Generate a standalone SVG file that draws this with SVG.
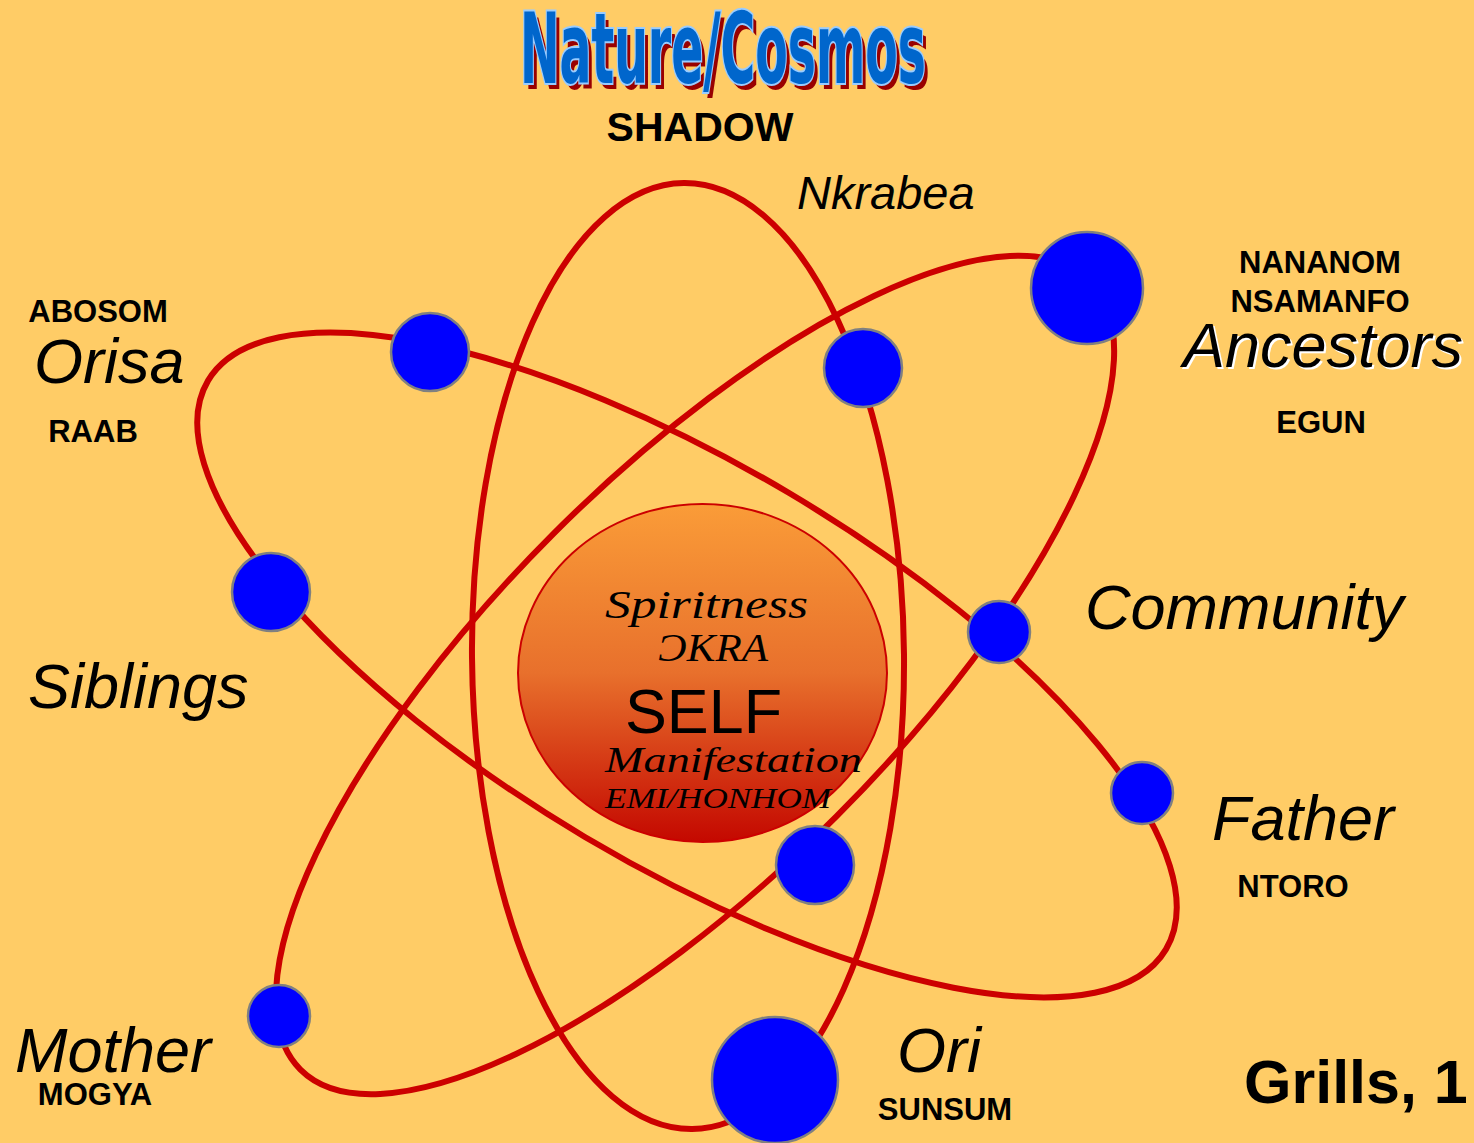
<svg xmlns="http://www.w3.org/2000/svg" width="1474" height="1143" viewBox="0 0 1474 1143">
<style>
.orbit{fill:none;stroke:#CC0000;stroke-width:6}
.node{fill:#0000FF;stroke:#808080;stroke-width:2.5}
.big{font-family:"Liberation Sans",Arial,sans-serif;font-style:italic;font-size:63px;fill:#000}
.lab{font-family:"Liberation Sans",Arial,sans-serif;font-weight:bold;font-size:31px;fill:#000;text-anchor:middle}
.script{font-family:"Liberation Serif","DejaVu Serif",serif;font-style:italic;fill:#000}
.title{font-family:"DejaVu Sans Condensed","Liberation Sans Narrow",sans-serif;font-weight:bold;font-size:98px}
</style>
<defs>
<linearGradient id="selfGrad" x1="0" y1="0" x2="0" y2="1">
<stop offset="0" stop-color="#FA9C38"/>
<stop offset="0.5" stop-color="#E8702C"/>
<stop offset="1" stop-color="#C40800"/>
</linearGradient>
</defs>
<rect x="0" y="0" width="1474" height="1143" fill="#FFCC66"/>
<g id="title">
<text class="title" x="524" y="89" fill="#990000" textLength="406" lengthAdjust="spacingAndGlyphs">Nature/Cosmos</text>
<text class="title" x="520" y="83" fill="#0066CC" stroke="#99CCFF" stroke-width="4" paint-order="stroke" textLength="406" lengthAdjust="spacingAndGlyphs">Nature/Cosmos</text>
</g>
<g id="connectors">
<ellipse class="orbit" cx="688" cy="656" rx="216" ry="473" transform="rotate(-0.5 688 656)"/>
<ellipse class="orbit" cx="695" cy="675" rx="558" ry="200" transform="rotate(-45 695 675)"/>
<ellipse class="orbit" cx="687" cy="665" rx="557" ry="200" transform="rotate(30.7 687 665)"/>
</g>
<g id="self">
<ellipse cx="702.5" cy="673" rx="184.5" ry="169" fill="url(#selfGrad)" stroke="#CC0000" stroke-width="2"/>
<text class="script" x="605" y="618" style="font-size:40px" textLength="203" lengthAdjust="spacingAndGlyphs">Spiritness</text>
<text class="script" x="658" y="661" style="font-size:40px" textLength="110" lengthAdjust="spacingAndGlyphs">ƆKRA</text>
<text x="625" y="733" style="font-family:'Liberation Sans',Arial,sans-serif;font-size:63px" fill="#000" textLength="157" lengthAdjust="spacingAndGlyphs">SELF</text>
<text class="script" x="605" y="772" style="font-size:36px" textLength="257" lengthAdjust="spacingAndGlyphs">Manifestation</text>
<text class="script" x="605" y="808" style="font-size:30px" textLength="226" lengthAdjust="spacingAndGlyphs">EMI/HONHOM</text>
</g>
<g id="node-orisa"><circle class="node" cx="430" cy="352" r="39"/></g>
<g id="node-nkrabea"><circle class="node" cx="863" cy="368" r="39"/></g>
<g id="node-ancestors"><circle class="node" cx="1087" cy="288" r="56"/></g>
<g id="node-siblings"><circle class="node" cx="271" cy="592" r="39"/></g>
<g id="node-community"><circle class="node" cx="999" cy="632" r="31"/></g>
<g id="node-father"><circle class="node" cx="1142" cy="793" r="31"/></g>
<g id="node-inner"><circle class="node" cx="815" cy="865" r="39"/></g>
<g id="node-mother"><circle class="node" cx="279" cy="1016" r="31"/></g>
<g id="node-ori"><circle class="node" cx="775" cy="1080" r="63"/></g>
<g id="labels">
<text class="lab" x="700" y="141" style="font-size:41px">SHADOW</text>
<text class="big" x="797" y="209" style="font-size:47px">Nkrabea</text>
<text class="lab" x="1320" y="273">NANANOM</text>
<text class="lab" x="1320" y="312">NSAMANFO</text>
<text class="big" x="1185" y="369" fill="#FFFFFF" style="fill:#FFFFFF" textLength="280" lengthAdjust="spacingAndGlyphs">Ancestors</text>
<text class="big" x="1183" y="367" textLength="280" lengthAdjust="spacingAndGlyphs">Ancestors</text>
<text class="lab" x="1321" y="433">EGUN</text>
<text class="lab" x="98" y="322">ABOSOM</text>
<text class="big" x="34" y="383">Orisa</text>
<text class="lab" x="93" y="442">RAAB</text>
<text class="big" x="1085" y="629">Community</text>
<text class="big" x="28" y="708">Siblings</text>
<text class="big" x="1212" y="840">Father</text>
<text class="lab" x="1293" y="897">NTORO</text>
<text class="big" x="15" y="1072">Mother</text>
<text class="lab" x="95" y="1105">MOGYA</text>
<text class="big" x="897" y="1072">Ori</text>
<text class="lab" x="945" y="1120">SUNSUM</text>
<text x="1244" y="1103" style="font-family:'Liberation Sans',Arial,sans-serif;font-weight:bold;font-size:61px" fill="#000">Grills, 1</text>
</g>
</svg>
